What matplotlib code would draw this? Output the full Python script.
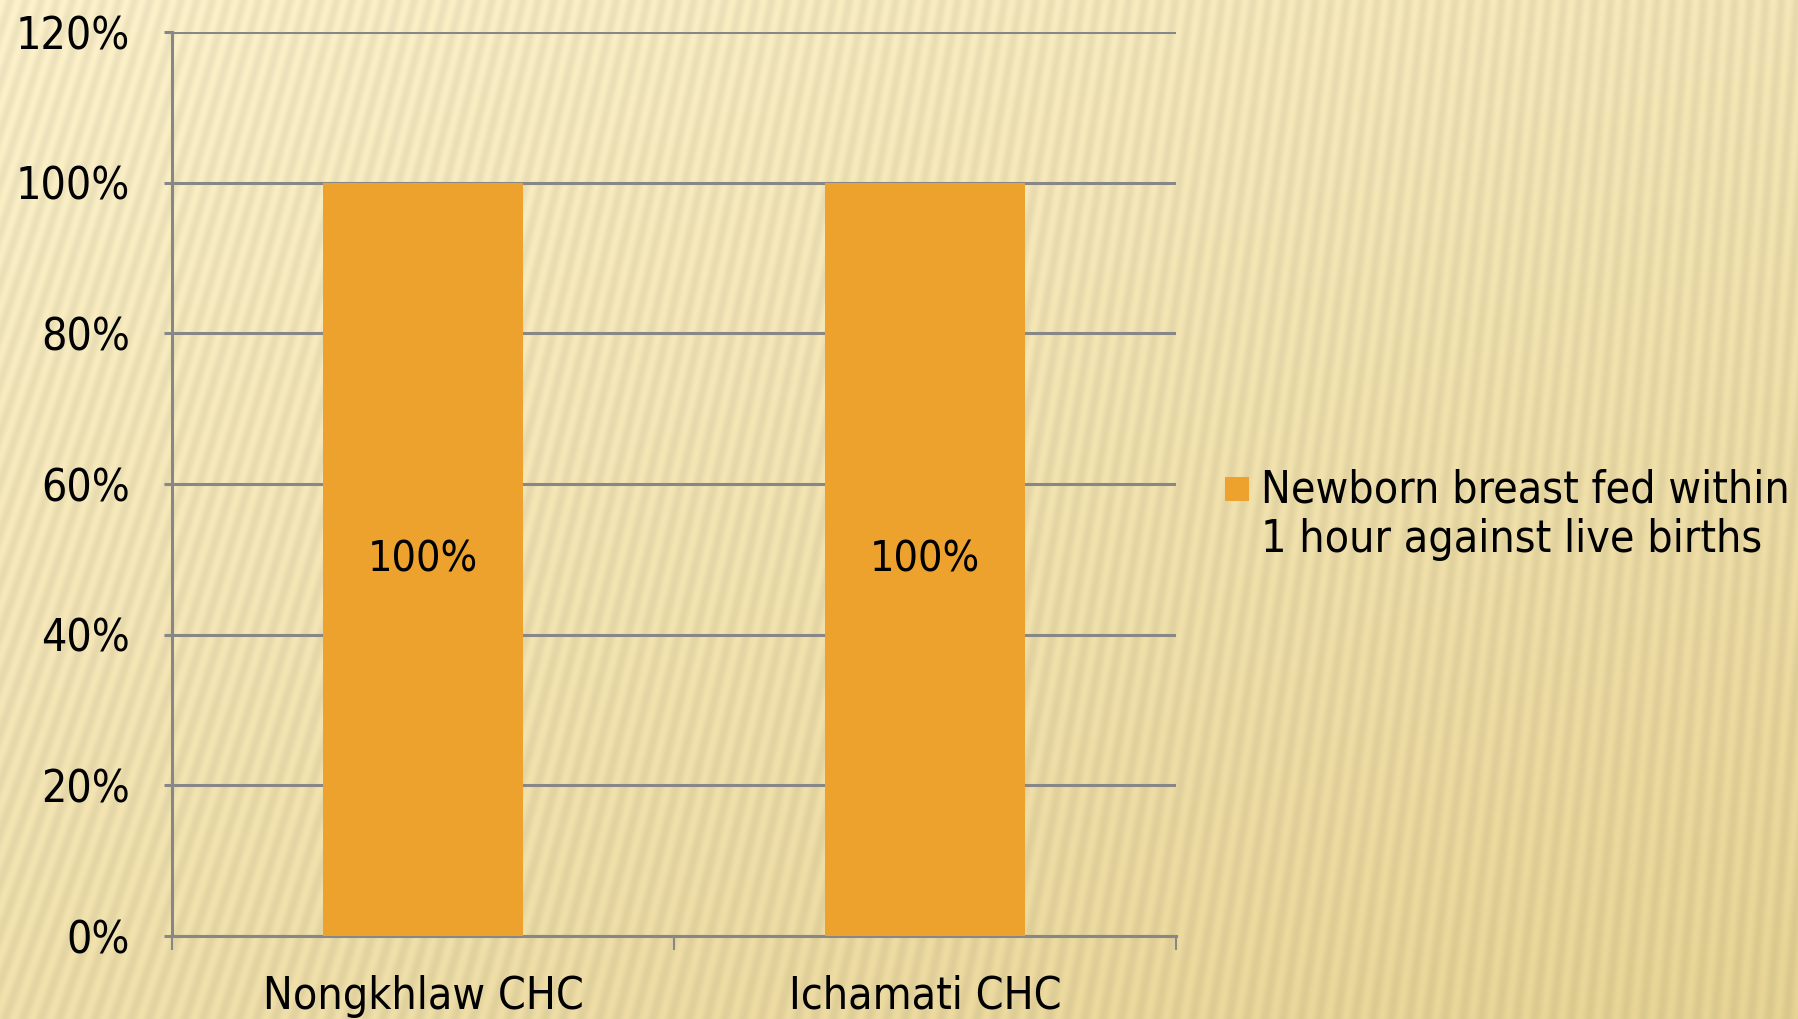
import numpy as np
import matplotlib
matplotlib.use('Agg')
import matplotlib.pyplot as plt
from matplotlib.patches import Rectangle
from matplotlib.container import BarContainer
from matplotlib.legend_handler import HandlerPatch
from matplotlib.ticker import FuncFormatter

# data
categories = ['Nongkhlaw CHC', 'Ichamati CHC']
values = [1.0, 1.0]
series_name = 'Newborn breast fed within\n1 hour against live births'
y_ticks = [0, 0.2, 0.4, 0.6, 0.8, 1.0, 1.2]

bar_color = '#EDA22E'
grid_color = '#878787'

plt.rcParams['font.family'] = ['DejaVu Sans']
plt.rcParams['font.stretch'] = 'condensed'

W, H = 1799, 1019
fig = plt.figure(figsize=(W / 100, H / 100), dpi=100)

# striped paper background
yy, xx = np.mgrid[0:H, 0:W].astype(float)
t = np.clip(0.55 * yy / H + 0.45 * xx / W - 0.1 * (1 - yy / H) * (xx / W), 0, 1)
light = np.array([253, 242, 203]) / 255
dark = np.array([232, 212, 148]) / 255
base = light[None, None, :] * (1 - t[..., None]) + dark[None, None, :] * t[..., None]
slant = 0.28 * (1 - xx / W) + 0.08
stripe = np.sin(2 * np.pi * (xx - slant * (H - yy)) / 18.0)
base = base * (1 - 0.06 * (stripe[..., None] + 1) / 2)
bg = fig.add_axes([0, 0, 1, 1], zorder=-10)
bg.imshow(np.clip(base, 0, 1), aspect='auto', extent=[0, 1, 0, 1])
bg.axis('off')

ax = fig.add_axes([172 / W, 1 - 936 / H, (1176 - 172) / W, (936 - 32) / H])
ax.set_facecolor('none')
x = np.arange(len(categories))
bars = ax.bar(x, values, width=0.4, color=bar_color, zorder=3, label=series_name)
ax.bar_label(bars, labels=['{:.0%}'.format(v) for v in values], label_type='center',
             fontsize=31, color='black')

ax.set_ylim(0, 1.2)
ax.set_xlim(-0.5, len(categories) - 0.5)
ax.set_yticks(y_ticks)
ax.yaxis.set_major_formatter(FuncFormatter(lambda v, p: '{:.0%}'.format(v)))
ax.grid(axis='y', color=grid_color, linewidth=2.2, zorder=0)
ax.set_axisbelow(True)
for s in ['top', 'right']:
    ax.spines[s].set_visible(False)
for s in ['left', 'bottom']:
    ax.spines[s].set_color(grid_color)
    ax.spines[s].set_linewidth(2.2)
ax.tick_params(axis='y', length=6, width=2.2, color=grid_color, pad=24, labelsize=32)
ax.set_xticks(x)
ax.set_xticklabels(categories)
ax.tick_params(axis='x', length=0, pad=28, labelsize=32)
ax.set_xticks([-0.5, 0.5, 1.5], minor=True)
ax.tick_params(axis='x', which='minor', length=10, width=1.5, color=grid_color)


def square(legend, orig_handle, xdescent, ydescent, width, height, fontsize):
    # put the square beside the first line of the label
    s = 0.55 * fontsize
    return Rectangle((0, height / 2 - s / 2 + 0.62 * fontsize), s, s)


def copy_style(tgt, src):
    tgt.update_from(src.patches[0])


fig.legend(handles=[bars], labels=[series_name], loc='center left',
           bbox_to_anchor=(1225 / W, 1 - 515 / H), frameon=False, fontsize=32,
           borderpad=0, borderaxespad=0,
           handlelength=0.56, handletextpad=0.26, labelspacing=0.2,
           handler_map={BarContainer: HandlerPatch(patch_func=square, update_func=copy_style)})

fig.savefig('out.png', dpi=100)
